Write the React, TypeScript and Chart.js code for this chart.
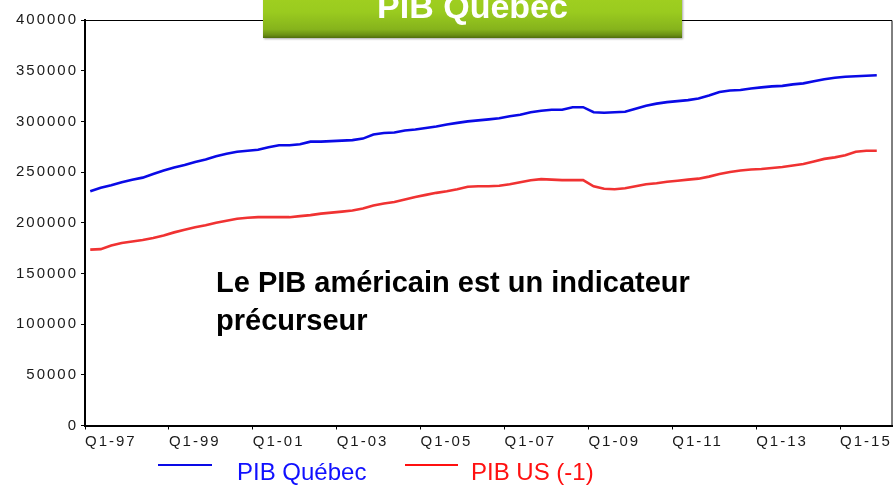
import React, { useEffect, useRef } from "react";
import { Chart, registerables } from "chart.js";

Chart.register(...registerables);

// Axis tick labels (one every 8 quarters, starting Q1-1997)
const tickLabels = ["Q1-97", "Q1-99", "Q1-01", "Q1-03", "Q1-05", "Q1-07", "Q1-09", "Q1-11", "Q1-13", "Q1-15"];
const quartersPerTick = 8;
const axisQuarters = 77;

// Quarterly values, Q1-1997 .. Q4-2015
const pibQuebec = [
  231000, 234500, 237000, 240000, 242500, 244500, 248000, 251500, 254500, 257000,
  260000, 262500, 265500, 268000, 270000, 271000, 272000, 274500, 276500, 276500,
  277500, 280000, 280000, 280500, 281000, 281500, 283000, 287000, 288500, 289000,
  291000, 292000, 293500, 295000, 297000, 298500, 300000, 301000, 302000, 303000,
  305000, 306500, 309000, 310500, 311500, 311500, 314000, 314000, 309000, 308500,
  309000, 309500, 312500, 315500, 317500, 319000, 320000, 321000, 322500, 325500,
  329000, 330500, 331000, 332500, 333500, 334500, 335000, 336500, 337500, 339500,
  341500, 343000, 344000, 344500, 345000, 345500,
];
const pibUS = [
  173500, 174000, 177500, 180000, 181500, 183000, 185000, 187500, 190500, 193000,
  195500, 197500, 200000, 202000, 204000, 205000, 205500, 205500, 205500, 205500,
  206500, 207500, 209000, 210000, 211000, 212000, 214000, 217000, 219000, 220500,
  223000, 225500, 227500, 229500, 231000, 233000, 235500, 236000, 236000, 236500,
  238000, 240000, 242000, 243000, 242500, 242000, 242000, 242000, 236000, 233500,
  233000, 234000, 236000, 238000, 239000, 240500, 241500, 242500, 243500, 245500,
  248000, 250000, 251500, 252500, 253000, 254000, 255000, 256500, 258000, 260500,
  263000, 264500, 266500, 270000, 271000, 271000,
];
const yMin = 0;
const yMax = 400000;
const yStep = 50000;

const seriesNames = ["PIB Québec", "PIB US (-1)"];
const titleText = "PIB Québec";
const noteLines = ["Le PIB américain est un indicateur", "précurseur"];

const BLUE = "#0a0ae6";
const RED = "#f03232";
const tickFont = { family: "'Liberation Sans', Arial, sans-serif", size: 15 };

const boxPlugin = {
  id: "boxPlugin",
  beforeDraw(chart: any) {
    try {
      (chart.ctx as any).letterSpacing = "2px";
    } catch (e) {}
  },
  afterDraw(chart: any) {
    const { ctx, chartArea } = chart;
    ctx.save();
    ctx.strokeStyle = "#000";
    ctx.lineWidth = 1;
    ctx.beginPath();
    ctx.moveTo(chartArea.left, chartArea.top + 0.5);
    ctx.lineTo(chartArea.right - 0.5, chartArea.top + 0.5);
    ctx.lineTo(chartArea.right - 0.5, chartArea.bottom);
    ctx.stroke();
    ctx.restore();
  },
};

function App() {
  const canvasRef = useRef<HTMLCanvasElement | null>(null);

  useEffect(() => {
    if (!canvasRef.current) return;
    const toPoints = (arr: number[]) => arr.map((v, i) => ({ x: i + 0.5, y: v }));
    const chart = new Chart(canvasRef.current, {
      type: "line",
      data: {
        datasets: [
          {
            label: seriesNames[0],
            data: toPoints(pibQuebec),
            borderColor: BLUE,
            borderWidth: 2.6,
            pointRadius: 0,
            tension: 0,
            fill: false,
          },
          {
            label: seriesNames[1],
            data: toPoints(pibUS),
            borderColor: RED,
            borderWidth: 2.6,
            pointRadius: 0,
            tension: 0,
            fill: false,
          },
        ],
      },
      options: {
        animation: false,
        responsive: false,
        devicePixelRatio: 1,
        layout: { padding: { top: 20, right: 1.5, left: 0, bottom: 0 } },
        plugins: {
          legend: { display: false },
          tooltip: { enabled: false },
          title: { display: false },
        },
        scales: {
          x: {
            type: "linear",
            min: 0,
            max: axisQuarters,
            afterBuildTicks: (s: any) => {
              s.ticks = tickLabels.map((_, i) => ({ value: i * quartersPerTick }));
            },
            afterFit: (s: any) => {
              s.height = 59.5;
              s.paddingLeft = 0;
              s.paddingRight = 0;
            },
            ticks: {
              callback: (_v: any, i: number) => tickLabels[i],
              align: "start",
              maxRotation: 0,
              minRotation: 0,
              autoSkip: false,
              font: tickFont,
              color: "#1a1a1a",
              padding: 3,
            },
            grid: { drawOnChartArea: false, drawTicks: true, tickLength: 4, tickColor: "#000", tickWidth: 1 },
            border: { display: true, color: "#000", width: 2 },
          },
          y: {
            type: "linear",
            min: yMin,
            max: yMax,
            afterFit: (s: any) => {
              s.width = 85;
              s.paddingTop = 0;
              s.paddingBottom = 0;
            },
            ticks: {
              stepSize: yStep,
              callback: (v: any) => String(v),
              font: tickFont,
              color: "#1a1a1a",
              padding: 3,
            },
            grid: { drawOnChartArea: false, drawTicks: true, tickLength: 4, tickColor: "#000", tickWidth: 1 },
            border: { display: true, color: "#000", width: 2 },
          },
        },
      },
      plugins: [boxPlugin],
    } as any);
    return () => chart.destroy();
  }, []);

  return (
    <div
      style={{
        position: "fixed",
        left: 0,
        top: 0,
        width: 894,
        height: 485,
        background: "#fff",
        overflow: "hidden",
        fontFamily: "'Liberation Sans', Arial, sans-serif",
      }}
    >
      <canvas ref={canvasRef} width={894} height={485} style={{ display: "block", width: 894, height: 485 }} />
      {/* Title banner */}
      <div
        style={{
          position: "absolute",
          left: 263,
          top: -20,
          width: 419,
          height: 58,
          background: "linear-gradient(to bottom, #a6d421 0%, #9acb1f 55%, #86b31c 85%, #6a8f14 95%, #4f6c0c 100%)",
          boxShadow: "1px 1px 2px rgba(0,0,0,0.35)",
        }}
      >
        <div
          style={{
            position: "absolute",
            left: 0,
            top: 8.5,
            width: "100%",
            textAlign: "center",
            color: "#fff",
            fontWeight: "bold",
            fontSize: 34,
            lineHeight: "34px",
            whiteSpace: "nowrap",
          }}
        >
          {titleText}
        </div>
      </div>
      {/* Annotation */}
      <div
        style={{
          position: "absolute",
          left: 216,
          top: 263,
          color: "#000",
          fontWeight: "bold",
          fontSize: 29,
          lineHeight: "38px",
          whiteSpace: "nowrap",
        }}
      >
        {noteLines[0]}
        <br />
        {noteLines[1]}
      </div>
      {/* Legend */}
      <div style={{ position: "absolute", left: 158, top: 464, width: 54, height: 2, background: BLUE }} />
      <div
        style={{
          position: "absolute",
          left: 237,
          top: 460.4,
          color: "#1010ff",
          fontSize: 24,
          lineHeight: "24px",
          whiteSpace: "nowrap",
        }}
      >
        {seriesNames[0]}
      </div>
      <div style={{ position: "absolute", left: 405, top: 464, width: 53, height: 2, background: "#ff1010" }} />
      <div
        style={{
          position: "absolute",
          left: 471,
          top: 460.4,
          color: "#ff1010",
          fontSize: 24,
          lineHeight: "24px",
          whiteSpace: "nowrap",
        }}
      >
        {seriesNames[1]}
      </div>
    </div>
  );
}

export default App;
